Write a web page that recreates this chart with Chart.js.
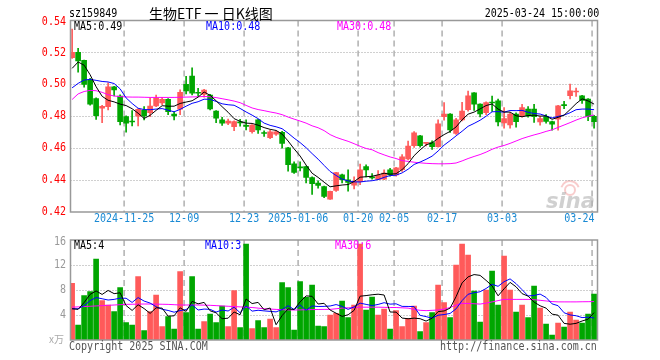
<!DOCTYPE html>
<html>
<head>
<meta charset="utf-8">
<script src="https://cdn.jsdelivr.net/npm/chart.js@4.4.1/dist/chart.umd.min.js"></script>
<style>
html, body { margin: 0; padding: 0; background: #fff; }
#wrap { position: relative; width: 660px; height: 360px; overflow: hidden; }
canvas { position: absolute; left: 0; top: 0; }
.t { position: absolute; white-space: nowrap; line-height: 14px; }
.mono { font: 12px "DejaVu Sans Mono"; transform: scaleX(0.835); transform-origin: 0 50%; }
.mono.r { transform-origin: 100% 50%; }
</style>
</head>
<body>
<div id="wrap">
  <canvas id="priceCanvas" width="660" height="360"></canvas>
  <canvas id="volCanvas" width="660" height="360"></canvas>
  <div class="t mono" style="left:69px;top:6px;color:#000">sz159849</div>
  <div class="t" style="left:149px;top:5px;font:14px 'Noto Sans CJK SC';line-height:17px;color:#000">生物ETF 一 日K线图</div>
  <div class="t mono r" style="right:61px;top:6px;color:#000">2025-03-24 15:00:00</div>
  <div class="t mono" style="left:69px;top:339px;color:#555">Copyright 2025 SINA.COM</div>
  <div class="t mono r" style="right:63px;top:339px;color:#555">http://finance.sina.com.cn</div>
</div>
<script>
// candles, 2024-11-12 .. 2025-03-24 (88 trading days)
const opens = [
  0.5167, 0.5200, 0.5150, 0.5027, 0.4910, 0.4850, 0.4860, 0.4985, 0.4927, 0.4798,
  0.4768, 0.4800, 0.4839, 0.4823, 0.4864, 0.4883, 0.4906, 0.4814, 0.4845, 0.5000,
  0.5052, 0.4948, 0.4937, 0.4933, 0.4833, 0.4777, 0.4756, 0.4735, 0.4762, 0.4741,
  0.4704, 0.4777, 0.4696, 0.4665, 0.4688, 0.4700, 0.4602, 0.4502, 0.4481, 0.4485,
  0.4416, 0.4381, 0.4360, 0.4281, 0.4335, 0.4433, 0.4402, 0.4368, 0.4390, 0.4485,
  0.4418, 0.4404, 0.4406, 0.4464, 0.4433, 0.4465, 0.4533, 0.4615, 0.4677, 0.4630,
  0.4635, 0.4610, 0.4798, 0.4814, 0.4692, 0.4777, 0.4842, 0.4946, 0.4876, 0.4823,
  0.4887, 0.4897, 0.4758, 0.4746, 0.4814, 0.4800, 0.4845, 0.4845, 0.4765, 0.4798,
  0.4767, 0.4781, 0.4869, 0.4929, 0.4952, 0.4928, 0.4907, 0.4800
];
const highs = [
  0.5346, 0.5226, 0.5152, 0.5037, 0.4915, 0.4868, 0.5010, 0.4987, 0.4935, 0.4802,
  0.4835, 0.4848, 0.4860, 0.4915, 0.4933, 0.4919, 0.4910, 0.4829, 0.4965, 0.5050,
  0.5104, 0.4975, 0.4968, 0.4937, 0.4835, 0.4794, 0.4783, 0.4771, 0.4781, 0.4777,
  0.4748, 0.4780, 0.4708, 0.4712, 0.4710, 0.4705, 0.4605, 0.4515, 0.4515, 0.4488,
  0.4420, 0.4396, 0.4362, 0.4331, 0.4449, 0.4437, 0.4465, 0.4420, 0.4500, 0.4495,
  0.4440, 0.4460, 0.4464, 0.4473, 0.4480, 0.4560, 0.4645, 0.4704, 0.4680, 0.4635,
  0.4646, 0.4777, 0.4885, 0.4816, 0.4787, 0.4887, 0.4958, 0.4948, 0.4878, 0.4891,
  0.4927, 0.4907, 0.4855, 0.4823, 0.4822, 0.4875, 0.4860, 0.4875, 0.4800, 0.4810,
  0.4769, 0.4869, 0.4894, 0.5002, 0.4977, 0.4931, 0.4910, 0.4806
];
const lows = [
  0.5163, 0.5077, 0.4983, 0.4870, 0.4780, 0.4760, 0.4840, 0.4927, 0.4746, 0.4700,
  0.4740, 0.4740, 0.4777, 0.4797, 0.4860, 0.4872, 0.4810, 0.4777, 0.4810, 0.4940,
  0.4933, 0.4925, 0.4920, 0.4840, 0.4760, 0.4742, 0.4748, 0.4710, 0.4738, 0.4715,
  0.4694, 0.4692, 0.4673, 0.4660, 0.4680, 0.4600, 0.4456, 0.4442, 0.4458, 0.4383,
  0.4310, 0.4350, 0.4290, 0.4279, 0.4329, 0.4383, 0.4330, 0.4345, 0.4372, 0.4420,
  0.4405, 0.4402, 0.4402, 0.4425, 0.4425, 0.4455, 0.4527, 0.4605, 0.4606, 0.4614,
  0.4592, 0.4606, 0.4775, 0.4698, 0.4686, 0.4771, 0.4832, 0.4836, 0.4796, 0.4810,
  0.4830, 0.4740, 0.4725, 0.4725, 0.4731, 0.4794, 0.4794, 0.4762, 0.4744, 0.4756,
  0.4713, 0.4712, 0.4848, 0.4908, 0.4925, 0.4880, 0.4772, 0.4725
];
const closes = [
  0.5200, 0.5146, 0.5000, 0.4875, 0.4804, 0.4862, 0.4985, 0.4965, 0.4766, 0.4756,
  0.4764, 0.4844, 0.4802, 0.4864, 0.4912, 0.4906, 0.4829, 0.4802, 0.4950, 0.4958,
  0.4944, 0.4944, 0.4964, 0.4846, 0.4788, 0.4756, 0.4770, 0.4766, 0.4758, 0.4737,
  0.4745, 0.4715, 0.4692, 0.4703, 0.4702, 0.4630, 0.4496, 0.4448, 0.4477, 0.4417,
  0.4377, 0.4367, 0.4298, 0.4329, 0.4447, 0.4402, 0.4386, 0.4391, 0.4464, 0.4464,
  0.4414, 0.4430, 0.4444, 0.4433, 0.4477, 0.4546, 0.4613, 0.4696, 0.4615, 0.4633,
  0.4610, 0.4752, 0.4814, 0.4714, 0.4777, 0.4833, 0.4928, 0.4876, 0.4814, 0.4885,
  0.4883, 0.4765, 0.4785, 0.4814, 0.4766, 0.4855, 0.4802, 0.4798, 0.4786, 0.4767,
  0.4750, 0.4865, 0.4867, 0.4960, 0.4955, 0.4899, 0.4798, 0.4766
];
const ma5 = [
  0.5100, 0.5140, 0.5120, 0.5060, 0.4985, 0.4925, 0.4900, 0.4890, 0.4876, 0.4867,
  0.4847, 0.4819, 0.4786, 0.4806, 0.4837, 0.4866, 0.4863, 0.4863, 0.4880, 0.4889,
  0.4897, 0.4920, 0.4952, 0.4931, 0.4897, 0.4860, 0.4825, 0.4785, 0.4768, 0.4757,
  0.4755, 0.4744, 0.4729, 0.4718, 0.4711, 0.4688, 0.4645, 0.4596, 0.4551, 0.4494,
  0.4443, 0.4417, 0.4387, 0.4358, 0.4364, 0.4369, 0.4372, 0.4391, 0.4418, 0.4421,
  0.4424, 0.4433, 0.4443, 0.4437, 0.4440, 0.4466, 0.4503, 0.4553, 0.4589, 0.4621,
  0.4633, 0.4661, 0.4685, 0.4705, 0.4733, 0.4778, 0.4813, 0.4826, 0.4846, 0.4867,
  0.4877, 0.4845, 0.4826, 0.4826, 0.4803, 0.4797, 0.4804, 0.4807, 0.4801, 0.4802,
  0.4781, 0.4793, 0.4807, 0.4842, 0.4879, 0.4909, 0.4896, 0.4876
];
const ma10 = [
  0.4978, 0.5006, 0.5027, 0.5031, 0.5025, 0.5018, 0.5015, 0.5005, 0.4972, 0.4915,
  0.4880, 0.4850, 0.4842, 0.4841, 0.4845, 0.4848, 0.4838, 0.4828, 0.4843, 0.4863,
  0.4881, 0.4891, 0.4907, 0.4906, 0.4893, 0.4878, 0.4872, 0.4869, 0.4849, 0.4827,
  0.4807, 0.4785, 0.4757, 0.4743, 0.4734, 0.4722, 0.4694, 0.4663, 0.4635, 0.4603,
  0.4566, 0.4531, 0.4492, 0.4454, 0.4429, 0.4406, 0.4395, 0.4389, 0.4388, 0.4393,
  0.4396, 0.4403, 0.4417, 0.4428, 0.4431, 0.4445, 0.4468, 0.4498, 0.4513, 0.4530,
  0.4550, 0.4582, 0.4619, 0.4647, 0.4677, 0.4706, 0.4737, 0.4755, 0.4775, 0.4800,
  0.4828, 0.4829, 0.4826, 0.4836, 0.4835, 0.4837, 0.4825, 0.4817, 0.4814, 0.4802,
  0.4789, 0.4799, 0.4807, 0.4822, 0.4841, 0.4845, 0.4845, 0.4841
];
const ma30 = [
  0.4905, 0.4940, 0.4955, 0.4962, 0.4960, 0.4950, 0.4935, 0.4927, 0.4923, 0.4921,
  0.4920, 0.4920, 0.4919, 0.4918, 0.4918, 0.4918, 0.4918, 0.4918, 0.4919, 0.4920,
  0.4921, 0.4922, 0.4924, 0.4922, 0.4917, 0.4910, 0.4903, 0.4895, 0.4885, 0.4868,
  0.4852, 0.4842, 0.4835, 0.4827, 0.4820, 0.4810, 0.4795, 0.4782, 0.4770, 0.4757,
  0.4740, 0.4728, 0.4710, 0.4685, 0.4668, 0.4655, 0.4643, 0.4628, 0.4612, 0.4598,
  0.4590, 0.4572, 0.4558, 0.4545, 0.4535, 0.4522, 0.4517, 0.4512, 0.4508, 0.4505,
  0.4503, 0.4502, 0.4502, 0.4503, 0.4507, 0.4520, 0.4535, 0.4548, 0.4560, 0.4575,
  0.4593, 0.4607, 0.4617, 0.4630, 0.4645, 0.4660, 0.4672, 0.4683, 0.4693, 0.4705,
  0.4715, 0.4730, 0.4745, 0.4760, 0.4776, 0.4790, 0.4800, 0.4808
];
// volume, x万
const volumes = [
  9.07, 2.40, 7.09, 7.73, 12.96, 6.29, 5.60, 4.53, 8.37, 2.77,
  2.40, 10.13, 1.49, 4.53, 7.20, 2.13, 3.73, 1.76, 10.93, 4.37,
  10.13, 1.76, 2.93, 4.16, 2.77, 5.44, 2.13, 7.89, 1.97, 15.36,
  1.81, 3.09, 1.97, 3.36, 1.97, 9.17, 8.37, 1.60, 9.33, 6.83,
  8.80, 2.24, 2.13, 4.00, 4.27, 6.24, 3.57, 5.60, 15.36, 4.80,
  6.88, 4.00, 4.96, 1.76, 4.69, 2.13, 3.47, 5.44, 1.33, 2.77,
  4.37, 8.80, 5.97, 3.57, 12.00, 15.36, 13.60, 7.84, 2.88, 8.00,
  11.04, 5.60, 13.44, 8.00, 4.48, 5.60, 3.57, 8.64, 5.12, 2.56,
  0.80, 2.72, 2.08, 4.48, 3.20, 2.72, 4.16, 7.36
];
const vma5 = [
  5.00, 4.90, 6.00, 7.30, 7.85, 7.29, 7.93, 7.42, 7.55, 5.51,
  4.73, 5.64, 5.03, 4.26, 5.15, 5.10, 3.82, 3.87, 5.15, 4.58,
  6.18, 5.79, 6.02, 4.67, 4.35, 3.41, 3.49, 4.48, 4.04, 6.56,
  5.83, 6.02, 4.84, 5.12, 2.44, 3.91, 4.97, 4.89, 6.09, 7.06,
  6.99, 5.76, 5.87, 4.80, 4.29, 3.78, 4.04, 4.74, 7.01, 7.11,
  7.24, 7.33, 7.20, 4.48, 4.46, 3.51, 3.40, 3.50, 3.41, 3.03,
  3.48, 4.54, 4.65, 5.10, 6.94, 9.14, 10.10, 10.47, 10.34, 9.54,
  8.67, 7.07, 8.19, 9.22, 8.51, 7.42, 7.02, 6.06, 5.48, 5.10,
  4.14, 3.97, 2.66, 2.53, 2.66, 3.04, 3.33, 4.38
];
const vma10 = [
  5.00, 5.00, 5.50, 6.30, 6.80, 6.60, 6.40, 6.50, 6.70, 6.68,
  6.01, 6.79, 6.23, 5.91, 5.33, 4.92, 4.73, 4.45, 4.71, 4.87,
  5.64, 4.80, 4.95, 4.91, 4.47, 4.80, 4.64, 5.25, 4.36, 5.45,
  4.62, 4.76, 4.66, 4.58, 4.50, 4.87, 5.50, 4.87, 5.60, 4.75,
  5.45, 5.36, 5.38, 5.44, 5.67, 5.38, 4.90, 5.30, 5.90, 5.70,
  5.51, 5.69, 5.97, 5.74, 5.79, 5.38, 5.37, 5.35, 3.95, 3.74,
  3.49, 3.97, 4.07, 4.25, 4.99, 6.31, 7.32, 7.56, 7.72, 8.24,
  8.91, 8.59, 9.33, 9.78, 9.02, 8.05, 7.05, 7.13, 7.35, 6.81,
  5.78, 5.49, 4.36, 4.01, 3.88, 3.59, 3.65, 3.52
];
const vma30 = [
  5.25, 5.30, 5.35, 5.40, 5.45, 5.50, 5.55, 5.60, 5.65, 5.70,
  5.72, 5.74, 5.76, 5.76, 5.74, 5.72, 5.70, 5.65, 5.60, 5.60,
  5.60, 5.60, 5.58, 5.55, 5.50, 5.45, 5.40, 5.35, 5.30, 5.25,
  5.20, 5.10, 5.00, 4.95, 4.90, 4.85, 4.82, 4.80, 4.82, 4.85,
  4.87, 4.88, 4.90, 4.90, 5.00, 5.10, 5.15, 5.20, 5.25, 5.25,
  5.25, 5.25, 5.23, 5.20, 5.20, 5.15, 5.10, 4.90, 4.75, 4.70,
  4.75, 4.80, 4.95, 5.20, 5.60, 5.85, 5.85, 5.80, 5.75, 5.90,
  6.10, 6.30, 6.50, 6.50, 6.50, 6.50, 6.50, 6.45, 6.35, 6.25,
  6.15, 6.10, 6.10, 6.10, 6.10, 6.12, 6.13, 6.15
];
const dateLabels = ['2024-11-25', '12-09', '12-23', '2025-01-06', '01-20', '02-05', '02-17', '03-03', '03-24'];
const dateIndex = [9, 19, 29, 38, 48, 54, 62, 72, 87];
const priceTicks = [0.54, 0.52, 0.50, 0.48, 0.46, 0.44, 0.42];
const volTicks = [16, 12, 8, 4];

const UP = '#ff5a5a';
const DOWN = '#00a600';
const idx = closes.map((c, i) => i);
const barColor = idx.map(i => (closes[i] >= opens[i] ? UP : DOWN));

function mono(ctx, s, x, y, color, align) {
  ctx.save();
  ctx.font = '12px "DejaVu Sans Mono"';
  ctx.fillStyle = color;
  ctx.textBaseline = 'middle';
  ctx.textAlign = align || 'left';
  ctx.translate(x, y);
  ctx.scale(0.835, 1);
  ctx.fillText(s, 0, 0);
  ctx.restore();
}

function drawGrid(chart, ticks) {
  const { ctx, chartArea: a, scales: { x, y } } = chart;
  ctx.save();
  ctx.strokeStyle = '#a0a0a0';
  ctx.lineWidth = 1;
  ctx.setLineDash([1, 2]);
  ticks.forEach(v => {
    if (v <= y.min || v >= y.max) return;
    const py = Math.round(y.getPixelForValue(v)) + 0.5;
    ctx.beginPath(); ctx.moveTo(a.left, py); ctx.lineTo(a.right, py); ctx.stroke();
  });
  ctx.setLineDash([6, 4]);
  ctx.strokeStyle = '#b0b0b0';
  ctx.lineWidth = 1.5;
  dateIndex.forEach(i => {
    const px = x.getPixelForValue(i - 1 / 3);
    ctx.beginPath(); ctx.moveTo(px, a.top); ctx.lineTo(px, a.bottom); ctx.stroke();
  });
  ctx.restore();
}

function drawBorder(chart) {
  const { ctx, chartArea: a } = chart;
  ctx.save();
  ctx.strokeStyle = '#999';
  ctx.lineWidth = 1.5;
  ctx.strokeRect(a.left, a.top, a.right - a.left, a.bottom - a.top);
  ctx.restore();
}

function lineSet(values, color) {
  return {
    type: 'line',
    data: idx.map(i => ({ x: i, y: values[i] })),
    borderColor: color,
    borderWidth: 1,
    pointRadius: 0,
    tension: 0,
    order: 0
  };
}

const pricePanel = {
  id: 'pricePanel',
  beforeDatasetsDraw(chart) {
    const { ctx } = chart;
    // sina watermark
    ctx.save();
    ctx.strokeStyle = 'rgba(235,110,110,0.35)';
    ctx.lineWidth = 2;
    ctx.beginPath(); ctx.arc(570, 190, 5, 0, Math.PI * 2); ctx.stroke();
    ctx.beginPath(); ctx.arc(570, 190, 9, Math.PI * 1.1, Math.PI * 1.9); ctx.stroke();
    ctx.font = 'italic bold 21px "DejaVu Sans"';
    ctx.fillStyle = 'rgba(150,150,150,0.45)';
    ctx.fillText('sina', 546, 208);
    ctx.restore();
    drawGrid(chart, priceTicks);
  },
  afterDatasetsDraw(chart) {
    const { ctx, chartArea: a, scales: { x, y } } = chart;
    drawBorder(chart);
    priceTicks.forEach(v => mono(ctx, v.toFixed(2), 66, Math.max(y.getPixelForValue(v), 22), '#ff0000', 'right'));
    dateLabels.forEach((s, k) => {
      const px = x.getPixelForValue(dateIndex[k] - 1 / 3);
      const half = s.length * 3;
      if (px + half > a.right - 2) mono(ctx, s, a.right - 3, 219, '#1a8ad4', 'right');
      else mono(ctx, s, px, 219, '#1a8ad4', 'center');
    });
    mono(ctx, 'MA5:' + ma5[ma5.length - 1].toFixed(2), 74, 27, '#000');
    mono(ctx, 'MA10:' + ma10[ma10.length - 1].toFixed(2), 206, 27, '#0000ff');
    mono(ctx, 'MA30:' + ma30[ma30.length - 1].toFixed(2), 337, 27, '#ff00ff');
  }
};

const volPanel = {
  id: 'volPanel',
  beforeDatasetsDraw(chart) {
    drawGrid(chart, volTicks);
  },
  afterDatasetsDraw(chart) {
    const { ctx, scales: { y } } = chart;
    drawBorder(chart);
    volTicks.forEach(v => mono(ctx, String(v), 66, Math.max(y.getPixelForValue(v), 242), '#999', 'right'));
    ctx.save();
    ctx.font = '10px "Noto Sans CJK SC"';
    ctx.fillStyle = '#aaa';
    ctx.textBaseline = 'middle';
    ctx.fillText('x万', 49, 339);
    ctx.restore();
    mono(ctx, 'MA5:' + Math.floor(vma5[vma5.length - 1]), 74, 246, '#000');
    mono(ctx, 'MA10:' + Math.floor(vma10[vma10.length - 1]), 205, 246, '#0000ff');
    mono(ctx, 'MA30:' + Math.floor(vma30[vma30.length - 1]), 335, 246, '#ff00ff');
  }
};

const xScale = { type: 'linear', min: -0.27, max: 87.57, offset: false, display: false };
const common = {
  responsive: false,
  animation: false,
  devicePixelRatio: 1,
  plugins: { legend: { display: false }, tooltip: { enabled: false } }
};

new Chart(document.getElementById('priceCanvas'), {
  type: 'bar',
  data: {
    datasets: [
      lineSet(ma5, '#000000'),
      lineSet(ma10, '#0000ff'),
      lineSet(ma30, '#ff00ff'),
      {
        data: idx.map(i => ({ x: i, y: [opens[i], closes[i]] })),
        backgroundColor: barColor,
        barThickness: 5,
        minBarLength: 1,
        grouped: false,
        order: 1
      },
      {
        data: idx.map(i => ({ x: i, y: [lows[i], highs[i]] })),
        backgroundColor: barColor,
        barThickness: 1,
        grouped: false,
        order: 2
      }
    ]
  },
  options: Object.assign({}, common, {
    layout: { padding: { left: 70.5, right: 62.5, top: 20.5, bottom: 148 } },
    scales: { x: xScale, y: { min: 0.42, max: 0.54, display: false } }
  }),
  plugins: [pricePanel]
});

new Chart(document.getElementById('volCanvas'), {
  type: 'bar',
  data: {
    datasets: [
      lineSet(vma5, '#000000'),
      lineSet(vma10, '#0000ff'),
      lineSet(vma30, '#ff00ff'),
      {
        data: idx.map(i => ({ x: i, y: volumes[i] })),
        backgroundColor: barColor,
        barThickness: 5,
        grouped: false,
        order: 1
      }
    ]
  },
  options: Object.assign({}, common, {
    layout: { padding: { left: 70.5, right: 62.5, top: 240, bottom: 20 } },
    scales: { x: xScale, y: { min: 0, max: 16, display: false } }
  }),
  plugins: [volPanel]
});
</script>
</body>
</html>
